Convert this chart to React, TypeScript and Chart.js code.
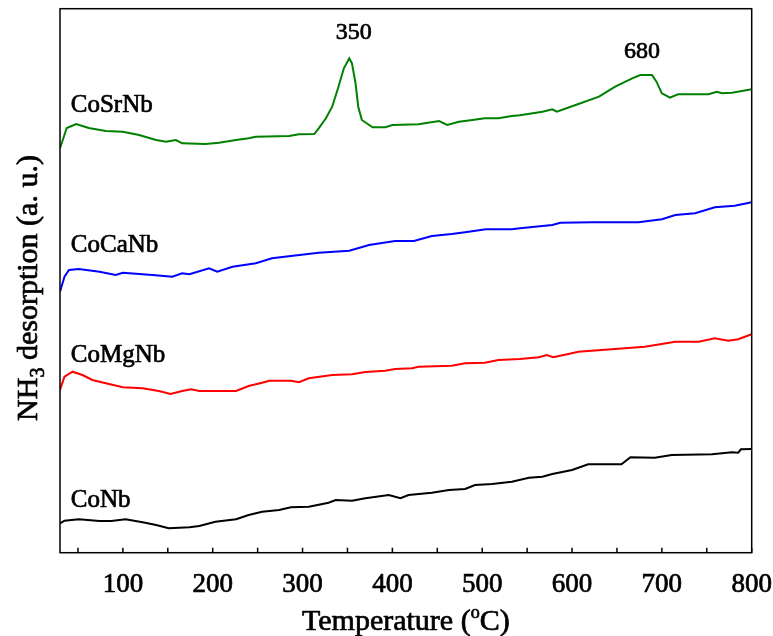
import { useEffect, useRef } from "react";
import { Chart, registerables } from "chart.js";

Chart.register(...registerables);

// ---- data (temperature in °C, NH3 desorption signal in a.u.) ----
const xTicks = [100, 200, 300, 400, 500, 600, 700, 800];
const minorTicks = [50, 150, 250, 350, 450, 550, 650, 750];

const coSrNbT = [30, 37.5, 48, 62, 81, 100, 118, 137, 148, 159, 166, 192, 207, 226, 240, 248, 285, 296, 313, 318, 326, 333, 340, 346, 352, 355, 359, 362, 366, 378, 392, 400, 429, 452, 461, 474, 489, 503, 518, 533, 542, 567, 578, 583, 604, 630, 648, 667, 676, 689, 694, 700, 709, 718, 752, 761, 767, 778, 800];
const coSrNbV = [404.4, 424.7, 428.7, 424.7, 421.7, 421, 417.7, 412.7, 411, 412.7, 409.4, 408.7, 410, 412.7, 414.4, 416, 416.7, 418.4, 418.7, 424.4, 434.4, 446, 466, 484.4, 494.4, 489.4, 469.4, 446, 432.7, 425.4, 425.4, 427.7, 428.4, 431.7, 427.7, 431, 432.7, 434.4, 434.4, 436.7, 437.4, 441, 443.4, 441, 447.7, 456, 466, 474.4, 477.7, 477.7, 471, 459.4, 455, 458.4, 458.4, 461, 459.4, 460, 463.4];

const coCaNbT = [30, 35, 40, 51, 74, 92, 100, 133, 155, 166, 174, 196, 205, 222, 248, 266, 287, 318, 352, 374, 403, 424, 444, 466, 481, 504, 533, 542, 578, 587, 622, 674, 700, 715, 737, 759, 781, 800];
const coCaNbV = [261, 276, 282.7, 283.7, 281, 277.7, 280, 277.7, 276, 279.4, 278.4, 284.4, 281, 286, 289.4, 294.4, 296.7, 300, 302, 307.7, 311.7, 311.7, 316.7, 318.7, 320.4, 323.4, 323.4, 324.4, 327.7, 330, 330.4, 330.4, 333.4, 337.7, 339.4, 345.4, 347, 350.4];

const coMgNbT = [30, 35, 44, 55, 66, 81, 100, 122, 140, 153, 166, 176, 185, 226, 240, 255, 263, 287, 296, 307, 333, 355, 370, 392, 403, 422, 429, 466, 481, 503, 518, 542, 563, 572, 579, 596, 607, 644, 681, 715, 741, 759, 774, 785, 800];
const coMgNbV = [162.7, 176, 181, 177.7, 172.7, 169.4, 165.4, 164.4, 161.7, 158.7, 161.7, 163.4, 161.7, 161.7, 166.7, 170, 172, 172, 170.4, 174.4, 177.7, 178.4, 180.7, 182, 183.7, 184.4, 186, 187, 189.4, 190, 192.7, 193.7, 195.4, 197.7, 195.4, 198.7, 201, 203.4, 206, 211, 211, 214.4, 212, 213.4, 218.4];

const coNbT = [30, 35, 51, 74, 87, 103, 122, 137, 151, 174, 185, 203, 226, 240, 255, 274, 287, 307, 329, 337, 355, 370, 396, 409, 418, 444, 463, 481, 492, 511, 533, 552, 567, 578, 600, 618, 655, 665, 692, 711, 756, 778, 785, 788, 800];
const coNbV = [29.4, 32, 33.4, 31.7, 31.7, 33.4, 30.4, 27.7, 24.4, 25.4, 26.7, 31, 33.4, 37.7, 41, 42.7, 45.4, 46, 50, 52.7, 52, 54.4, 57.7, 54.4, 57.7, 60, 62.7, 63.7, 67.7, 68.7, 71, 75, 76, 78.7, 82.7, 88.4, 88.4, 95.4, 95, 97.7, 98.4, 100.4, 100, 103.4, 103.7];

const seriesNames = ["CoSrNb", "CoCaNb", "CoMgNb", "CoNb"];
const peakLabels = ["350", "680"];

// ---- styling / placement ----
const seriesColors = ["#008000", "#0000ff", "#ff0000", "#000000"];
const nameAnchors = [
  { x: 42, y: 441 },
  { x: 42, y: 300.7 },
  { x: 42, y: 190.7 },
  { x: 42, y: 45.7 },
];
const peakAnchors = [
  { x: 357, y: 513.7 },
  { x: 678, y: 494.7 },
];

const FONT = "'Liberation Serif', 'Times New Roman', serif";
const TEXT_STROKE = 0.7;

function txt(ctx: CanvasRenderingContext2D, s: string, x: number, y: number) {
  ctx.fillText(s, x, y);
  ctx.strokeText(s, x, y);
}

type Seg = { t: string; size: number; dy: number };

function drawRich(ctx: CanvasRenderingContext2D, segs: Seg[], cx: number, by: number) {
  let total = 0;
  const widths = segs.map((s) => {
    ctx.font = `${s.size}px ${FONT}`;
    const w = ctx.measureText(s.t).width;
    total += w;
    return w;
  });
  let x = cx - total / 2;
  segs.forEach((s, i) => {
    ctx.font = `${s.size}px ${FONT}`;
    txt(ctx, s.t, x, by + s.dy);
    x += widths[i];
  });
}

const decorPlugin = {
  id: "decor",
  afterDraw(chart: any) {
    const { ctx, chartArea } = chart;
    const xs = chart.scales.x;
    const ys = chart.scales.y;
    ctx.save();
    // frame
    ctx.strokeStyle = "#000";
    ctx.lineWidth = 1.5;
    ctx.strokeRect(chartArea.left, chartArea.top, chartArea.right - chartArea.left, chartArea.bottom - chartArea.top);
    // inward ticks
    [...xTicks, ...minorTicks].forEach((v) => {
      const px = xs.getPixelForValue(v);
      ctx.beginPath();
      ctx.moveTo(px, chartArea.bottom);
      ctx.lineTo(px, chartArea.bottom - 5);
      ctx.stroke();
    });
    ctx.fillStyle = "#000";
    ctx.lineWidth = TEXT_STROKE;
    ctx.lineJoin = "round";
    ctx.textBaseline = "alphabetic";
    // tick labels
    ctx.textAlign = "center";
    ctx.font = `27px ${FONT}`;
    xTicks.forEach((v) => {
      txt(ctx, String(v), xs.getPixelForValue(v), 591.5);
    });
    // series names
    ctx.textAlign = "left";
    ctx.font = `25px ${FONT}`;
    seriesNames.forEach((n, i) => {
      txt(ctx, n, xs.getPixelForValue(nameAnchors[i].x), ys.getPixelForValue(nameAnchors[i].y));
    });
    // peak labels
    ctx.textAlign = "center";
    ctx.font = `24px ${FONT}`;
    peakLabels.forEach((p, i) => {
      txt(ctx, p, xs.getPixelForValue(peakAnchors[i].x), ys.getPixelForValue(peakAnchors[i].y));
    });
    // x title
    ctx.textAlign = "left";
    const midX = (chartArea.left + chartArea.right) / 2;
    drawRich(
      ctx,
      [
        { t: "Temperature (", size: 30, dy: 0 },
        { t: "o", size: 18, dy: -12 },
        { t: "C)", size: 30, dy: 0 },
      ],
      midX,
      630
    );
    // y title
    ctx.translate(37, 288);
    ctx.rotate(-Math.PI / 2);
    drawRich(
      ctx,
      [
        { t: "NH", size: 30, dy: 0 },
        { t: "3", size: 20, dy: 7 },
        { t: " desorption (a. u.)", size: 30, dy: 0 },
      ],
      0,
      0
    );
    ctx.restore();
  },
};

function toPoints(t: number[], v: number[]) {
  return t.map((x, i) => ({ x, y: v[i] }));
}

export default function App() {
  const ref = useRef<HTMLCanvasElement | null>(null);
  useEffect(() => {
    document.body.style.margin = "0";
    const canvas = ref.current;
    if (!canvas) return;
    const data = [
      toPoints(coSrNbT, coSrNbV),
      toPoints(coCaNbT, coCaNbV),
      toPoints(coMgNbT, coMgNbV),
      toPoints(coNbT, coNbV),
    ];
    const chart = new Chart(canvas, {
      type: "line",
      data: {
        datasets: data.map((d, i) => ({
          label: seriesNames[i],
          data: d,
          borderColor: seriesColors[i],
          backgroundColor: seriesColors[i],
          borderWidth: 2,
          pointRadius: 0,
          tension: 0,
          fill: false,
        })),
      },
      options: {
        responsive: false,
        animation: false,
        events: [],
        layout: { padding: { top: 8.7, right: 21.3, left: 0, bottom: 0 } },
        plugins: { legend: { display: false }, tooltip: { enabled: false }, title: { display: false } },
        scales: {
          x: {
            type: "linear",
            min: 30,
            max: 800,
            grid: { display: false, drawTicks: false },
            border: { display: false },
            ticks: { display: false },
            afterFit: (s: any) => {
              s.height = 83.3;
              s.paddingLeft = 0;
              s.paddingRight = 0;
            },
          },
          y: {
            type: "linear",
            min: 0,
            max: 544,
            grid: { display: false, drawTicks: false },
            border: { display: false },
            ticks: { display: false },
            afterFit: (s: any) => {
              s.width = 60;
              s.paddingTop = 0;
              s.paddingBottom = 0;
            },
          },
        },
      },
      plugins: [decorPlugin],
    });
    return () => chart.destroy();
  }, []);
  return (
    <div style={{ width: 773, height: 636, position: "relative" }}>
      <canvas ref={ref} width={773} height={636} style={{ display: "block" }} />
    </div>
  );
}
